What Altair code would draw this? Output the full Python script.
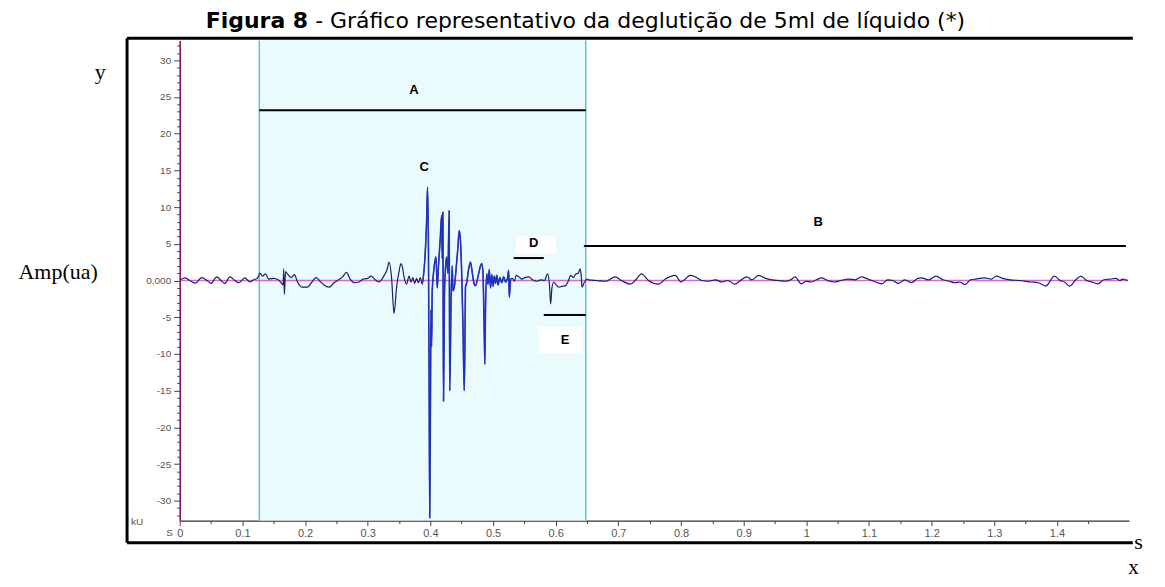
import altair as alt
import pandas as pd

# ---------------- data ----------------
time_s = [0.000, 0.008, 0.018, 0.025, 0.035, 0.045, 0.050, 0.059, 0.066, 0.072, 0.080, 0.088, 0.094, 0.104,
          0.112, 0.118, 0.124, 0.128, 0.132, 0.137, 0.142, 0.150, 0.157, 0.162, 0.165, 0.166, 0.167, 0.169,
          0.172, 0.178, 0.183, 0.188, 0.195, 0.204, 0.210, 0.218, 0.225, 0.232, 0.239, 0.245, 0.252, 0.260,
          0.266, 0.272, 0.279, 0.286, 0.293, 0.300, 0.305, 0.312, 0.318, 0.322, 0.327, 0.331, 0.334, 0.338,
          0.342, 0.346, 0.350, 0.353, 0.355, 0.358, 0.362, 0.366, 0.369, 0.372, 0.375, 0.378, 0.381, 0.384,
          0.387, 0.390, 0.392, 0.394, 0.3955, 0.397, 0.3975, 0.398, 0.399, 0.400, 0.401, 0.402, 0.403, 0.405,
          0.407, 0.409, 0.411, 0.413, 0.416, 0.418, 0.419, 0.420, 0.4205, 0.421, 0.4225, 0.424, 0.426, 0.428,
          0.430, 0.4305, 0.431, 0.433, 0.435, 0.436, 0.438, 0.441, 0.444, 0.446, 0.448, 0.450, 0.452, 0.454,
          0.455, 0.456, 0.458, 0.461, 0.464, 0.467, 0.470, 0.472, 0.476, 0.480, 0.482, 0.484, 0.485, 0.486,
          0.487, 0.488, 0.490, 0.492, 0.494, 0.496, 0.498, 0.500, 0.502, 0.504, 0.506, 0.508, 0.511, 0.514,
          0.517, 0.520, 0.523, 0.525, 0.526, 0.528, 0.531, 0.534, 0.537, 0.541, 0.546, 0.551, 0.557, 0.563,
          0.570, 0.576, 0.582, 0.587, 0.590, 0.592, 0.594, 0.597, 0.601, 0.605, 0.610, 0.616, 0.620, 0.624,
          0.628, 0.632, 0.636, 0.639, 0.641, 0.642, 0.646, 0.650, 0.653, 0.665, 0.680, 0.695, 0.705, 0.719,
          0.728, 0.737, 0.748, 0.764, 0.775, 0.791, 0.800, 0.815, 0.823, 0.833, 0.844, 0.855, 0.865, 0.875,
          0.886, 0.895, 0.905, 0.913, 0.924, 0.935, 0.945, 0.955, 0.967, 0.975, 0.982, 0.992, 1.000, 1.008,
          1.016, 1.024, 1.034, 1.045, 1.055, 1.067, 1.078, 1.088, 1.098, 1.108, 1.120, 1.130, 1.138, 1.147,
          1.157, 1.168, 1.178, 1.184, 1.195, 1.207, 1.218, 1.228, 1.237, 1.245, 1.253, 1.262, 1.270, 1.285,
          1.295, 1.303, 1.313, 1.325, 1.340, 1.359, 1.370, 1.382, 1.396, 1.405, 1.412, 1.420, 1.430, 1.438,
          1.447, 1.456, 1.465, 1.475, 1.485, 1.494, 1.500, 1.505, 1.513]
amp_ua = [0.0, 0.35, -0.1, -0.35, 0.4, -0.1, -0.4, 0.5, 0.0, -0.4, 0.5, 0.0, -0.3, 0.35,
          -0.2, 0.1, 0.3, 1.0, 0.6, 0.9, 0.2, 0.3, 0.1, -0.3, -0.6, 1.6, -1.9, 1.2,
          0.9, 0.4, 0.8, -0.2, -0.9, -0.9, -0.3, 0.4, -0.2, -0.7, -0.9, -0.4, 0.0, 0.5,
          1.1, 0.2, -0.3, -0.2, 0.2, 0.3, 0.6, 0.1, -0.2, 0.1, 0.8, 1.5, 2.5, 0.5,
          -4.5, -1.0, 1.2, 2.3, 2.0, 0.5, -0.5, 0.6, -0.2, 0.4, -0.4, 0.3, -0.3, 0.4,
          -0.5, 1.5, 4.0, 8.0, 12.7, 4.0, -6.0, -12.0, -32.3, -20.0, -4.0, -9.0, -1.4, 1.0,
          2.5, 3.2, -1.0, 2.0, 6.0, 8.9, 3.0, 9.3, -5.0, -16.4, -2.0, 1.5, 3.2, 1.0,
          9.5, -4.0, -15.0, -3.0, 2.0, -1.4, -1.0, 1.5, 4.5, 6.8, 5.5, 1.0, -6.0, -15.0,
          -10.0, -0.9, -0.3, 1.5, 2.5, 1.0, -0.5, -0.7, 0.5, 2.0, 2.3, 1.0, -2.5, -7.0,
          -11.4, -4.0, 0.9, -0.5, 1.5, -1.0, 0.8, -0.8, 0.6, -0.4, 0.7, -0.6, 0.4, -0.3,
          0.5, -0.2, 0.3, 1.4, -2.3, 0.2, 0.3, -0.1, 0.7, 0.5, 0.2, 0.4, 0.5, 0.1,
          -0.1, 0.1, 0.0, 0.9, -0.5, -3.2, -1.0, -0.2, -0.6, -0.9, -0.8, -0.7, -0.1, 0.7,
          0.4, 0.9, 1.0, 1.6, 0.4, -0.9, -0.2, 0.2, 0.1, 0.0, -0.1, 0.5, 0.0, -0.5,
          0.1, 0.9, 0.0, -0.5, 0.2, 0.7, -0.2, 0.7, 0.5, 0.0, -0.1, 0.1, -0.2, 0.0,
          -0.5, 0.0, 0.5, 0.1, 0.7, 0.3, 0.1, 0.0, -0.1, 0.1, 0.5, -0.45, -0.1, -0.2,
          0.1, 0.35, 0.0, -0.2, 0.0, 0.2, 0.1, 0.5, 0.2, -0.1, -0.45, 0.1, 0.0, -0.4,
          0.1, -0.3, 0.3, 0.35, 0.1, 0.6, 0.1, -0.1, -0.3, -0.2, -0.55, 0.1, 0.2, 0.35,
          0.2, 0.6, 0.3, 0.1, 0.0, -0.2, -0.3, -0.75, 0.6, 0.0, -0.2, -0.75, 0.1, 0.6,
          0.0, -0.2, -0.45, 0.1, 0.2, 0.3, 0.0, 0.2, 0.0]

burst_start, burst_end = 0.386, 0.530

region_t = [0.127, 0.648]

seg_names = ["A", "B", "D", "E"]
seg_t0 = [0.127, 0.645, 0.533, 0.581]
seg_t1 = [0.648, 1.510, 0.581, 0.648]
seg_amp = [23.2, 4.7, 3.06, -4.7]

lab_text = ["A", "B", "C", "D", "E"]
lab_t = [0.374, 1.019, 0.390, 0.565, 0.615]
lab_amp = [25.9, 8.0, 15.5, 5.1, -8.1]

box_t0 = [0.537, 0.573]
box_t1 = [0.600, 0.642]
box_a0 = [3.7, -9.9]
box_a1 = [6.0, -6.3]

TITLE_BOLD = "Figura 8"
TITLE_REST = "- Gráfico representativo da deglutição de 5ml de líquido (*)"

X_DOM = [0.0, 1.515]
Y_DOM = [-32.7, 32.7]

# ---------------- frames ----------------
sig = pd.DataFrame({"t": time_s, "amp": amp_ua})
burst = sig[(sig.t >= burst_start) & (sig.t <= burst_end)]

xs = alt.Scale(domain=X_DOM, nice=False, zero=False)
ys = alt.Scale(domain=Y_DOM, nice=False, zero=False)

x_vals = [round(i * 0.05, 2) for i in range(30)]
y_vals = list(range(-32, 33))

xaxis = alt.Axis(
    title=None, grid=False, values=x_vals,
    labelExpr="round(datum.value*20) % 2 == 0 ? '' + round(datum.value*10)/10 : ''",
    tickSize={"condition": {"test": "round(datum.value*20) % 2 == 0", "value": 5}, "value": 3},
    tickColor="#444", domainColor="#333", domainWidth=1.2,
    labelFont="Liberation Sans", labelFontSize=11, labelColor="#555", labelPadding=2,
    labelFlush=False, labelOverlap=False,
)
yaxis = alt.Axis(
    title=None, grid=False, values=y_vals,
    labelExpr="datum.value == 0 ? '0,000' : (datum.value % 5 == 0 ? '' + datum.value : '')",
    tickSize={"condition": {"test": "datum.value % 5 == 0", "value": 6}, "value": 3},
    tickColor="#444", domainColor="#8a1466", domainWidth=1.6,
    labelFont="Liberation Sans", labelFontSize=10, labelColor="#555", labelPadding=3,
    labelOverlap=False,
)

def X(f):
    return alt.X(f, type="quantitative", scale=xs, axis=xaxis)

def Y(f):
    return alt.Y(f, type="quantitative", scale=ys, axis=yaxis)

region = alt.Chart(pd.DataFrame({"t0": [region_t[0]], "t1": [region_t[1]], "a0": [Y_DOM[0]], "a1": [Y_DOM[1]]})).mark_rect(
    color="#eafbfd").encode(x=X("t0"), x2="t1", y=Y("a0"), y2="a1")

edges = alt.Chart(pd.DataFrame({"t": region_t, "a0": [Y_DOM[0]] * 2, "a1": [Y_DOM[1]] * 2})).mark_rule(
    color="#62c2cf", strokeWidth=1.5).encode(x=X("t"), y=Y("a0"), y2="a1")

zero = alt.Chart(pd.DataFrame({"t0": [0.0], "t1": [1.513], "a": [0.0]})).mark_rule(
    color="#d868d8", strokeWidth=1.3).encode(x=X("t0"), x2="t1", y=Y("a"))

line = alt.Chart(sig).mark_line(color="#1d1d6e", strokeWidth=1.2, interpolate="monotone").encode(
    x=X("t"), y=Y("amp"), order="t")

burst_line = alt.Chart(burst).mark_line(color="#1f33cc", strokeWidth=1.6, opacity=0.85,
                                        interpolate="monotone").encode(
    x=X("t"), y=Y("amp"), order="t")

boxes = alt.Chart(pd.DataFrame({"t0": box_t0, "t1": box_t1, "a0": box_a0, "a1": box_a1})).mark_rect(
    color="white").encode(x=X("t0"), x2="t1", y=Y("a0"), y2="a1")

segs = alt.Chart(pd.DataFrame({"n": seg_names, "t0": seg_t0, "t1": seg_t1, "a": seg_amp})).mark_rule(
    color="black", strokeWidth=2).encode(x=X("t0"), x2="t1", y=Y("a"))

labels = alt.Chart(pd.DataFrame({"s": lab_text, "t": lab_t, "a": lab_amp})).mark_text(
    font="Liberation Sans", fontSize=13, fontWeight="bold", color="black").encode(
    x=X("t"), y=Y("a"), text="s")

# frame around the figure (data coordinates beyond the plot)
frame = alt.Chart(pd.DataFrame({
    "t0": [-0.084, -0.084, -0.084], "t1": [1.521, -0.084, 1.521],
    "a0": [33.0, 33.0, -35.7], "a1": [33.0, -35.7, -35.7]})).mark_rule(
    color="black", strokeWidth=3, clip=False).encode(x=X("t0"), x2="t1", y=Y("a0"), y2="a1")

serif = alt.Chart(pd.DataFrame({
    "s": ["y", "Amp(ua)", "s"],
    "t": [-0.127, -0.194, 1.530],
    "a": [28.4, 1.1, -35.6]})).mark_text(
    font="Liberation Serif", fontSize=22, color="black", clip=False).encode(x=X("t"), y=Y("a"), text="s")

xlab = alt.Chart(pd.DataFrame({"s": ["x"], "t": [1.522], "a": [-40.0]})).mark_text(
    font="Liberation Serif", fontSize=21, color="black", baseline="alphabetic", clip=False).encode(
    x=X("t"), y=Y("a"), text="s")

small = alt.Chart(pd.DataFrame({
    "s": ["kU", "S"], "t": [-0.068, -0.016], "a": [-32.9, -34.4]})).mark_text(
    font="Liberation Sans", fontSize=10, color="#555", clip=False).encode(x=X("t"), y=Y("a"), text="s")

title_b = alt.Chart(pd.DataFrame({"s": [TITLE_BOLD], "t": [0.205], "a": [34.45]})).mark_text(
    font="DejaVu Sans", fontSize=22, fontWeight="bold", color="black", align="right",
    baseline="alphabetic", clip=False).encode(x=X("t"), y=Y("a"), text="s")
title_r = alt.Chart(pd.DataFrame({"s": [TITLE_REST], "t": [0.205], "a": [34.45]})).mark_text(
    font="DejaVu Sans", fontSize=22, color="black", align="left", dx=7,
    baseline="alphabetic", clip=False).encode(x=X("t"), y=Y("a"), text="s")

chart = alt.layer(region, edges, zero, line, burst_line, boxes, segs, labels, frame, serif, xlab, small,
                  title_b, title_r).properties(
    width=951, height=481,
    padding={"left": 172, "top": 32, "right": 28, "bottom": 58},
    autosize=alt.AutoSizeParams(type="none"),
).configure_view(stroke=None)

chart.save("out.html", embed_options={"renderer": "svg", "actions": False})
